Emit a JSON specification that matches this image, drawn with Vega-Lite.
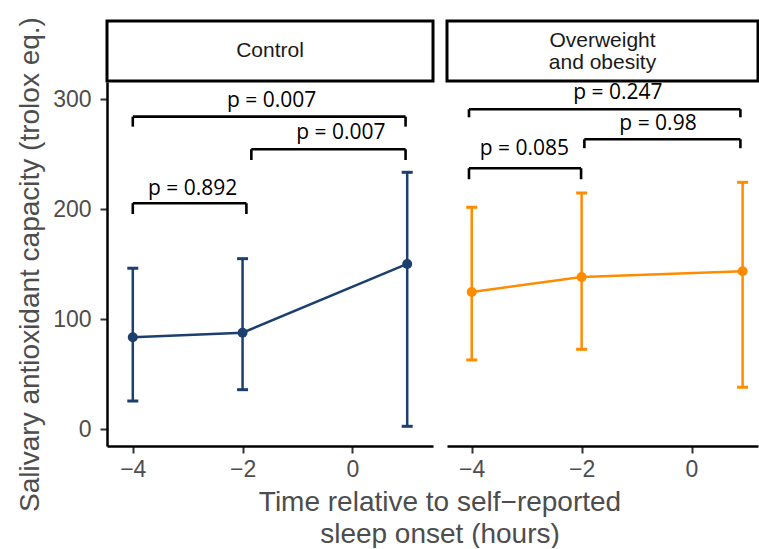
{
  "$schema": "https://vega.github.io/schema/vega-lite/v6.json",
  "padding": {"left": 16, "top": 16, "right": 0, "bottom": 0},
  "bounds": "flush",
  "columns": 2,
  "spacing": {"row": 1, "column": 14},
  "config": {
    "view": {"stroke": null},
    "font": "Liberation Sans",
    "axis": {
      "grid": false,
      "labelFont": "Liberation Sans",
      "labelFontSize": 23,
      "labelColor": "#4d4d4d",
      "titleFont": "Liberation Sans",
      "titleFontSize": 28,
      "titleFontWeight": "normal",
      "titleColor": "#4d4d4d",
      "tickColor": "#333333",
      "tickWidth": 2,
      "tickSize": 7,
      "domainColor": "#000000",
      "domainWidth": 2.5
    }
  },
  "datasets": {
    "pts": [
      {"group": "Control", "time": -4, "mean": 83.6, "lo": 25.7, "hi": 146.4},
      {"group": "Control", "time": -2, "mean": 87.8, "lo": 36.0, "hi": 155.1},
      {"group": "Control", "time": 1, "mean": 150.3, "lo": 2.7, "hi": 233.6},
      {"group": "Overweight", "time": -4, "mean": 124.8, "lo": 63.0, "hi": 201.8},
      {"group": "Overweight", "time": -2, "mean": 138.5, "lo": 72.7, "hi": 214.8},
      {"group": "Overweight", "time": 0.93, "mean": 143.6, "lo": 38.2, "hi": 224.5}
    ],
    "brk": [
      {"group": "Control", "x1": -4, "x2": -1.93, "y": 205.5, "tip": 195.7, "label": "p = 0.892", "lx": -2.91, "ly": 213.0},
      {"group": "Control", "x1": -1.84, "x2": 0.97, "y": 254.5, "tip": 244.8, "label": "p = 0.007", "lx": -0.21, "ly": 263.6},
      {"group": "Control", "x1": -4, "x2": 0.97, "y": 284.2, "tip": 275.1, "label": "p = 0.007", "lx": -1.47, "ly": 293.3},
      {"group": "Overweight", "x1": -4.05, "x2": -2.01, "y": 237.3, "tip": 227.3, "label": "p = 0.085", "lx": -3.04, "ly": 249.4},
      {"group": "Overweight", "x1": -1.95, "x2": 0.89, "y": 263.6, "tip": 255.5, "label": "p = 0.98", "lx": -0.61, "ly": 272.1},
      {"group": "Overweight", "x1": -4.05, "x2": 0.89, "y": 290.9, "tip": 283.6, "label": "p = 0.247", "lx": -1.34, "ly": 300.0}
    ]
  },
  "concat": [
    {
      "width": 326,
      "height": 60,
      "view": {"stroke": "#000000", "strokeWidth": 3, "fill": "#ffffff"},
      "data": {"values": [{"s": "Control"}]},
      "mark": {"type": "text", "fontSize": 21, "color": "#1a1a1a", "font": "Liberation Sans"},
      "encoding": {"text": {"field": "s", "type": "nominal"}}
    },
    {
      "width": 311,
      "height": 60,
      "view": {"stroke": "#000000", "strokeWidth": 3, "fill": "#ffffff"},
      "data": {"values": [{"s": "Overweight\nand obesity"}]},
      "mark": {"type": "text", "fontSize": 21, "color": "#1a1a1a", "font": "Liberation Sans", "lineBreak": "\n", "lineHeight": 22, "dy": -10},
      "encoding": {"text": {"field": "s", "type": "nominal"}}
    },
    {
      "width": 326,
      "height": 364,
      "layer": [
        {
          "data": {"name": "pts"},
          "transform": [{"filter": "datum.group === 'Control'"}],
          "mark": {"type": "rule", "color": "#1c3f6e", "strokeWidth": 2.5},
          "encoding": {
            "x": {"field": "time", "type": "quantitative", "scale": {"domain": [-4.47, 1.47], "nice": false, "zero": false},
              "axis": {"values": [-4, -2, 0], "format": "d", "title": ["Time relative to self−reported", "sleep onset (hours)"], "titleX": 332.5, "titleY": 64, "titleBaseline": "alphabetic", "titleAlign": "center", "titleLineHeight": 32, "labelPadding": 5}},
            "y": {"field": "lo", "type": "quantitative", "scale": {"domain": [-15.2, 315.7], "nice": false, "zero": false},
              "axis": {"values": [0, 100, 200, 300], "format": "d", "title": "Salivary antioxidant capacity (trolox eq.)", "titlePadding": 8, "labelPadding": 9}},
            "y2": {"field": "hi"}
          }
        },
        {
          "data": {"name": "pts"},
          "transform": [{"filter": "datum.group === 'Control'"}],
          "mark": {"type": "tick", "orient": "horizontal", "size": 11, "thickness": 3, "color": "#1c3f6e", "opacity": 1},
          "encoding": {"x": {"field": "time", "type": "quantitative"}, "y": {"field": "lo", "type": "quantitative"}}
        },
        {
          "data": {"name": "pts"},
          "transform": [{"filter": "datum.group === 'Control'"}],
          "mark": {"type": "tick", "orient": "horizontal", "size": 11, "thickness": 3, "color": "#1c3f6e", "opacity": 1},
          "encoding": {"x": {"field": "time", "type": "quantitative"}, "y": {"field": "hi", "type": "quantitative"}}
        },
        {
          "data": {"name": "pts"},
          "transform": [{"filter": "datum.group === 'Control'"}],
          "mark": {"type": "line", "color": "#1c3f6e", "strokeWidth": 2.5},
          "encoding": {"x": {"field": "time", "type": "quantitative"}, "y": {"field": "mean", "type": "quantitative"}}
        },
        {
          "data": {"name": "pts"},
          "transform": [{"filter": "datum.group === 'Control'"}],
          "mark": {"type": "point", "filled": true, "size": 100, "opacity": 1, "color": "#1c3f6e"},
          "encoding": {"x": {"field": "time", "type": "quantitative"}, "y": {"field": "mean", "type": "quantitative"}}
        },
        {
          "data": {"name": "brk"},
          "transform": [{"filter": "datum.group === 'Control'"}],
          "mark": {"type": "rule", "color": "#000000", "strokeWidth": 2.6},
          "encoding": {"x": {"field": "x1", "type": "quantitative"}, "x2": {"field": "x2"}, "y": {"field": "y", "type": "quantitative"}}
        },
        {
          "data": {"name": "brk"},
          "transform": [{"filter": "datum.group === 'Control'"}],
          "mark": {"type": "rule", "color": "#000000", "strokeWidth": 2.6},
          "encoding": {"x": {"field": "x1", "type": "quantitative"}, "y": {"field": "y", "type": "quantitative"}, "y2": {"field": "tip"}}
        },
        {
          "data": {"name": "brk"},
          "transform": [{"filter": "datum.group === 'Control'"}],
          "mark": {"type": "rule", "color": "#000000", "strokeWidth": 2.6},
          "encoding": {"x": {"field": "x2", "type": "quantitative"}, "y": {"field": "y", "type": "quantitative"}, "y2": {"field": "tip"}}
        },
        {
          "data": {"name": "brk"},
          "transform": [{"filter": "datum.group === 'Control'"}],
          "mark": {"type": "text", "font": "Open Sans", "fontSize": 21, "color": "#000000", "baseline": "alphabetic", "align": "center"},
          "encoding": {"x": {"field": "lx", "type": "quantitative"}, "y": {"field": "ly", "type": "quantitative"}, "text": {"field": "label", "type": "nominal"}}
        }
      ]
    },
    {
      "width": 311,
      "height": 364,
      "layer": [
        {
          "data": {"name": "pts"},
          "transform": [{"filter": "datum.group === 'Overweight'"}],
          "mark": {"type": "rule", "color": "#ff8c00", "strokeWidth": 2.5},
          "encoding": {
            "x": {"field": "time", "type": "quantitative", "scale": {"domain": [-4.45, 1.21], "nice": false, "zero": false},
              "axis": {"values": [-4, -2, 0], "format": "d", "title": null, "labelPadding": 5}},
            "y": {"field": "lo", "type": "quantitative", "scale": {"domain": [-15.2, 315.7], "nice": false, "zero": false}, "axis": null},
            "y2": {"field": "hi"}
          }
        },
        {
          "data": {"name": "pts"},
          "transform": [{"filter": "datum.group === 'Overweight'"}],
          "mark": {"type": "tick", "orient": "horizontal", "size": 11, "thickness": 3, "color": "#ff8c00", "opacity": 1},
          "encoding": {"x": {"field": "time", "type": "quantitative"}, "y": {"field": "lo", "type": "quantitative", "axis": null}}
        },
        {
          "data": {"name": "pts"},
          "transform": [{"filter": "datum.group === 'Overweight'"}],
          "mark": {"type": "tick", "orient": "horizontal", "size": 11, "thickness": 3, "color": "#ff8c00", "opacity": 1},
          "encoding": {"x": {"field": "time", "type": "quantitative"}, "y": {"field": "hi", "type": "quantitative", "axis": null}}
        },
        {
          "data": {"name": "pts"},
          "transform": [{"filter": "datum.group === 'Overweight'"}],
          "mark": {"type": "line", "color": "#ff8c00", "strokeWidth": 2.5},
          "encoding": {"x": {"field": "time", "type": "quantitative"}, "y": {"field": "mean", "type": "quantitative", "axis": null}}
        },
        {
          "data": {"name": "pts"},
          "transform": [{"filter": "datum.group === 'Overweight'"}],
          "mark": {"type": "point", "filled": true, "size": 100, "opacity": 1, "color": "#ff8c00"},
          "encoding": {"x": {"field": "time", "type": "quantitative"}, "y": {"field": "mean", "type": "quantitative", "axis": null}}
        },
        {
          "data": {"name": "brk"},
          "transform": [{"filter": "datum.group === 'Overweight'"}],
          "mark": {"type": "rule", "color": "#000000", "strokeWidth": 2.6},
          "encoding": {"x": {"field": "x1", "type": "quantitative"}, "x2": {"field": "x2"}, "y": {"field": "y", "type": "quantitative", "axis": null}}
        },
        {
          "data": {"name": "brk"},
          "transform": [{"filter": "datum.group === 'Overweight'"}],
          "mark": {"type": "rule", "color": "#000000", "strokeWidth": 2.6},
          "encoding": {"x": {"field": "x1", "type": "quantitative"}, "y": {"field": "y", "type": "quantitative", "axis": null}, "y2": {"field": "tip"}}
        },
        {
          "data": {"name": "brk"},
          "transform": [{"filter": "datum.group === 'Overweight'"}],
          "mark": {"type": "rule", "color": "#000000", "strokeWidth": 2.6},
          "encoding": {"x": {"field": "x2", "type": "quantitative"}, "y": {"field": "y", "type": "quantitative", "axis": null}, "y2": {"field": "tip"}}
        },
        {
          "data": {"name": "brk"},
          "transform": [{"filter": "datum.group === 'Overweight'"}],
          "mark": {"type": "text", "font": "Open Sans", "fontSize": 21, "color": "#000000", "baseline": "alphabetic", "align": "center"},
          "encoding": {"x": {"field": "lx", "type": "quantitative"}, "y": {"field": "ly", "type": "quantitative", "axis": null}, "text": {"field": "label", "type": "nominal"}}
        }
      ]
    }
  ]
}
